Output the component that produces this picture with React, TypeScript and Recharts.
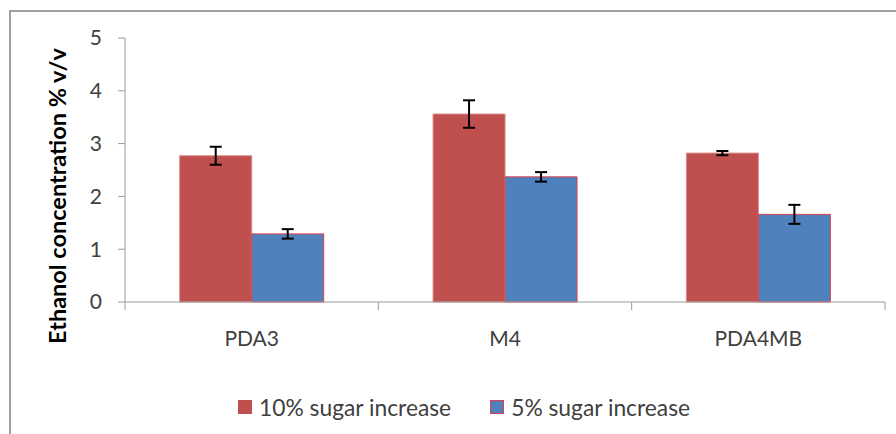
import { BarChart, Bar, XAxis, YAxis, ErrorBar, Label } from 'recharts'

const strains = ['PDA3', 'M4', 'PDA4MB']
const sugar10 = [2.77, 3.56, 2.82]
const sugar10Err = [0.17, 0.26, 0.04]
const sugar5 = [1.29, 2.37, 1.66]
const sugar5Err = [0.09, 0.09, 0.18]
const yTicks = [0, 1, 2, 3, 4, 5]
const seriesNames = ['10% sugar increase', '5% sugar increase']
const seriesColors = ['#C0504D', '#4F81BD']
const seriesStrokes = ['#D88A88', '#E0404A']

const data = strains.map((s, i) => ({
  strain: s,
  s10: sugar10[i],
  s10Err: sugar10Err[i],
  s5: sugar5[i],
  s5Err: sugar5Err[i],
}))

const font = 'Lato, "Open Sans", sans-serif'
const axisGray = '#9a9a9a'

function CategoryTick(props: any) {
  const { x, y, payload, index } = props
  const half = payload.offset ?? (props.width ?? 760) / strains.length / 2
  const axisY = y - 10
  return (
    <g>
      {index === 0 && (
        <line x1={x - half} x2={x - half} y1={axisY} y2={axisY + 8} stroke={axisGray} />
      )}
      <line x1={x + half} x2={x + half} y1={axisY} y2={axisY + 8} stroke={axisGray} />
      <text x={x} y={y} dy={34} textAnchor="middle" fontSize={21} fill="#404040" fontFamily={font}>
        {payload.value}
      </text>
    </g>
  )
}

function YLabel(props: any) {
  const vb = props.viewBox || { x: 0, y: 38, width: 125, height: 264 }
  const cx = vb.x + vb.width / 2 - 6
  const cy = vb.y + vb.height / 2 + 26
  return (
    <text
      x={cx}
      y={cy}
      transform={`rotate(-90, ${cx}, ${cy})`}
      textAnchor="middle"
      dominantBaseline="central"
      fontSize={23.5}
      fontWeight="bold"
      fill="#000"
      fontFamily={font}
    >
      Ethanol concentration % v/v
    </text>
  )
}

export default function App() {
  return (
    <div style={{ position: 'fixed', left: 0, top: 0, width: 896, height: 434, background: '#fff', overflow: 'hidden' }}>
      <div
        style={{
          position: 'absolute',
          left: 9,
          top: 10,
          width: 900,
          height: 440,
          borderLeft: '2px solid #a0a0a0',
          borderTop: '2px solid #a0a0a0',
        }}
      />
      <BarChart
        width={896}
        height={434}
        data={data}
        margin={{ top: 38, right: 11, left: 0, bottom: 92 }}
        barCategoryGap="21.6%"
        barGap={0}
      >
        <XAxis
          dataKey="strain"
          stroke={axisGray}
          tickLine={false}
          tickSize={8}
          tickMargin={2}
          height={40}
          tick={<CategoryTick />}
          interval={0}
        />
        <YAxis
          domain={[0, 5]}
          ticks={yTicks}
          width={125}
          stroke={axisGray}
          tickSize={7}
          tickMargin={16}
          tick={{ fontSize: 21, fill: '#404040', fontFamily: font }}
        >
          <Label content={<YLabel />} />
        </YAxis>
        <Bar dataKey="s10" name={seriesNames[0]} fill={seriesColors[0]} stroke={seriesStrokes[0]} strokeWidth={1} isAnimationActive={false}>
          <ErrorBar dataKey="s10Err" width={6} strokeWidth={2} stroke="#000" />
        </Bar>
        <Bar dataKey="s5" name={seriesNames[1]} fill={seriesColors[1]} stroke={seriesStrokes[1]} strokeWidth={1} isAnimationActive={false}>
          <ErrorBar dataKey="s5Err" width={6} strokeWidth={2} stroke="#000" />
        </Bar>
      </BarChart>
      <div
        style={{
          position: 'absolute',
          left: 238,
          top: 393,
          display: 'flex',
          alignItems: 'center',
          fontFamily: font,
          fontSize: 22.8,
          color: '#404040',
        }}
      >
        {seriesNames.map((n, i) => (
          <div key={n} style={{ display: 'flex', alignItems: 'center', marginRight: 39 }}>
            <span
              style={{
                width: 14,
                height: 14,
                background: seriesColors[i],
                boxSizing: 'border-box',
                border: i === 1 ? '1px solid #E0404A' : 'none',
                marginRight: 7,
              }}
            />
            <span>{n}</span>
          </div>
        ))}
      </div>
    </div>
  )
}
